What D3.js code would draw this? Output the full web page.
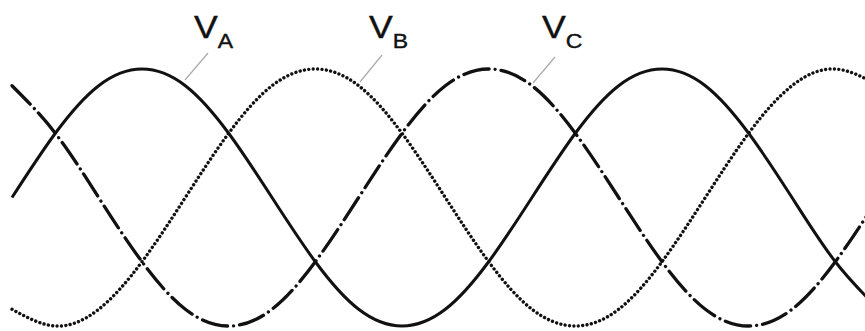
<!DOCTYPE html>
<html>
<head>
<meta charset="utf-8">
<script src="https://cdn.jsdelivr.net/npm/d3@7"></script>
<style>
  html, body { margin: 0; padding: 0; background: #fff; }
  svg { display: block; }
  text { font-family: "Liberation Sans", Arial, sans-serif; fill: #111; }
</style>
</head>
<body>
<svg id="chart" width="865" height="331"></svg>
<script>
// phase angle (degrees) sampled every 30°
const angles = [0,30,60,90,120,150,180,210,240,270,300,330,360,390,420,450,480,510,540,570,600];
// normalized voltages
const vA = [0,0.5,0.87,1,0.87,0.5,0,-0.5,-0.87,-1,-0.87,-0.5,0,0.5,0.87,1,0.87,0.5,0,-0.5,-0.87];
const vB = [-0.87,-1,-0.87,-0.5,0,0.5,0.87,1,0.87,0.5,0,-0.5,-0.87,-1,-0.87,-0.5,0,0.5,0.87,1,0.87];
const vC = [0.87,0.5,0,-0.5,-0.87,-1,-0.87,-0.5,0,0.5,0.87,1,0.87,0.5,0,-0.5,-0.87,-1,-0.87,-0.5,0];
const seriesNames = ["A","B","C"];

const svg = d3.select("#chart");
const W = 865, H = 331;

const x = d3.scaleLinear().domain([0, 360]).range([12, 532]);
const y = d3.scaleLinear().domain([-1, 1]).range([326, 69]);

svg.append("clipPath").attr("id", "clip")
  .append("rect").attr("x", 0).attr("y", 0).attr("width", W).attr("height", H);

const line = d3.line()
  .x((d, i) => x(angles[i]))
  .y(d => y(d))
  .curve(d3.curveNatural);

const g = svg.append("g").attr("clip-path", "url(#clip)");

const styles = [
  { data: vA, dash: null, width: 3.0, cap: "butt" },
  { data: vB, dash: "0.01 4.4", width: 3.4, cap: "round" },
  { data: vC, dash: "26 6 0.01 6", width: 3.3, cap: "round" }
];

styles.forEach(s => {
  g.append("path")
    .datum(s.data)
    .attr("d", line)
    .attr("fill", "none")
    .attr("stroke", "#111")
    .attr("stroke-width", s.width)
    .attr("stroke-linecap", s.cap)
    .attr("stroke-dasharray", s.dash);
});

// labels with leader lines
const labelPos = [
  { vx: 194, lx1: 208, ly1: 53, lx2: 185, ly2: 80 },
  { vx: 369, lx1: 382, ly1: 55, lx2: 360, ly2: 82 },
  { vx: 542, lx1: 555, ly1: 57, lx2: 533, ly2: 83 }
];

seriesNames.forEach((n, i) => {
  const p = labelPos[i];
  svg.append("line")
    .attr("x1", p.lx1).attr("y1", p.ly1)
    .attr("x2", p.lx2).attr("y2", p.ly2)
    .attr("stroke", "#aaa").attr("stroke-width", 1.2);
  const t = svg.append("text")
    .attr("transform", `translate(${p.vx},38) scale(1.15,1)`)
    .attr("stroke", "#111").attr("stroke-width", 0.4);
  t.append("tspan").attr("font-size", 31).text("V");
  t.append("tspan").attr("font-size", 20).attr("dy", 10).text(n);
});
</script>
</body>
</html>
